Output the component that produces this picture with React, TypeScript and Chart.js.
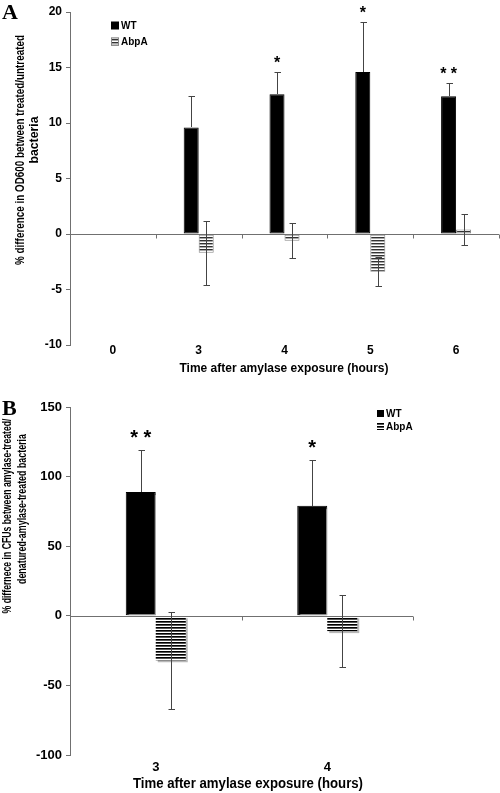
import React, { useEffect, useRef } from 'react';
import { Chart, registerables } from 'chart.js';
Chart.register(...registerables);

// ---------- Data ----------
const seriesNames = ['WT', 'AbpA'];

const categoriesA = ['0', '3', '4', '5', '6'];
const wtA = [null, 9.6, 12.6, 14.6, 12.4];
const wtErrA = [null, 2.8, 2.0, 4.5, 1.2];
const abpA = [null, -1.7, -0.6, -3.4, 0.4];
const abpErrA = [null, 2.9, 1.6, 1.3, 1.4];
const starsA = ['', '', '*', '*', '* *'];
const yMinA = -10, yMaxA = 20, yStepA = 5;

const categoriesB = ['3', '4'];
const wtB = [89, 79];
const wtErrB = [30, 33];
const abpB = [-32, -11];
const abpErrB = [35, 26];
const starsB = ['* *', '*'];
const yMinB = -100, yMaxB = 150, yStepB = 50;

const xTitle = 'Time after amylase exposure (hours)';
const yTitleA = ['% difference in OD600 between treated/untreated', 'bacteria'];
const yTitleB = ['% differnece in CFUs between amylase-treated/', 'denatured-amylase-treated bacteria'];

const FONT = 'Arial, "Liberation Sans", sans-serif';
const SERIF = '"Liberation Serif", "Times New Roman", serif';
const AXIS = '#707070';

function makePattern(rows: string[]) {
  const c = document.createElement('canvas');
  c.width = 4; c.height = rows.length;
  const g = c.getContext('2d')!;
  rows.forEach((col, i) => { g.fillStyle = col; g.fillRect(0, i, 4, 1); });
  const ctx = document.createElement('canvas').getContext('2d')!;
  return ctx.createPattern(c, 'repeat')!;
}

// draws text centred at (0,0) squeezed/stretched to a target length
function fitText(ctx: CanvasRenderingContext2D, text: string, target: number) {
  const w = ctx.measureText(text).width;
  const s = target ? target / w : 1;
  ctx.save();
  ctx.scale(s, 1);
  ctx.fillText(text, 0, 0);
  ctx.restore();
}

const customPlugin = {
  id: 'custom',
  beforeDatasetsDraw(chart: any, _a: any, opts: any) {
    if (opts.shadow) {
      const ctx = chart.ctx;
      ctx.shadowColor = opts.shadow;
      ctx.shadowOffsetX = 2;
      ctx.shadowOffsetY = 2;
      ctx.shadowBlur = 1;
    }
  },
  afterDatasetsDraw(chart: any, _a: any, opts: any) {
    const ctx = chart.ctx;
    ctx.shadowColor = 'rgba(0,0,0,0)';
    ctx.shadowOffsetX = 0; ctx.shadowOffsetY = 0; ctx.shadowBlur = 0;
    ctx.save();
    const xs = chart.scales.x, ys = chart.scales.y, area = chart.chartArea;
    // zero line with category ticks
    const y0 = Math.round(ys.getPixelForValue(0)) + 0.5;
    ctx.strokeStyle = AXIS; ctx.lineWidth = 1;
    ctx.beginPath();
    ctx.moveTo(area.left, y0); ctx.lineTo(area.right, y0);
    const n = chart.data.labels.length;
    for (let i = 0; i < n; i++) {
      const bx = i < n - 1 ? (xs.getPixelForValue(i) + xs.getPixelForValue(i + 1)) / 2 : area.right - 0.5;
      const px = Math.round(bx) + 0.5;
      ctx.moveTo(px, y0); ctx.lineTo(px, y0 + 4);
    }
    ctx.stroke();
    // error bars
    ctx.strokeStyle = '#444';
    chart.data.datasets.forEach((ds: any, di: number) => {
      const meta = chart.getDatasetMeta(di);
      const errs = opts.errors[di];
      const outsideOnly = di === 0;
      meta.data.forEach((el: any, i: number) => {
        const v = ds.data[i]; const e = errs[i];
        if (v == null || e == null) return;
        const px = Math.round(el.x) + 0.5;
        const t = Math.round(ys.getPixelForValue(v + e)) + 0.5;
        const b = Math.round(ys.getPixelForValue(v - e)) + 0.5;
        const barTop = Math.round(ys.getPixelForValue(v));
        ctx.beginPath();
        if (outsideOnly) {
          ctx.moveTo(px, t); ctx.lineTo(px, barTop);
          ctx.moveTo(px - 3, t); ctx.lineTo(px + 3.5, t);
        } else {
          ctx.moveTo(px, t); ctx.lineTo(px, b);
          ctx.moveTo(px - 3, t); ctx.lineTo(px + 3.5, t);
          ctx.moveTo(px - 3, b); ctx.lineTo(px + 3.5, b);
        }
        ctx.stroke();
      });
    });
    // stars
    ctx.fillStyle = '#000';
    ctx.textAlign = 'center';
    ctx.textBaseline = 'alphabetic';
    ctx.font = `bold ${opts.starSize}px ${FONT}`;
    const wtMeta = chart.getDatasetMeta(0);
    opts.stars.forEach((s: string, i: number) => {
      if (!s) return;
      const v = chart.data.datasets[0].data[i];
      const e = opts.errors[0][i];
      const top = ys.getPixelForValue(v + e);
      ctx.fillText(s, wtMeta.data[i].x, top - opts.starGap);
    });
    ctx.restore();
  },
  afterDraw(chart: any, _a: any, opts: any) {
    const ctx = chart.ctx;
    ctx.save();
    ctx.fillStyle = '#000';
    // panel letter
    ctx.font = `bold 22px ${SERIF}`;
    ctx.textAlign = 'left'; ctx.textBaseline = 'alphabetic';
    ctx.fillText(opts.letter, 2, opts.letterY);
    // legend
    const lg = opts.legend;
    ctx.font = `bold ${lg.size}px ${FONT}`;
    ctx.textBaseline = 'middle';
    chart.data.datasets.forEach((ds: any, i: number) => {
      const y = lg.y + i * lg.gap;
      ctx.fillStyle = ds.backgroundColor;
      ctx.fillRect(lg.x, y - lg.box / 2, lg.box, lg.box);
      if (i === 1 && lg.border) {
        ctx.strokeStyle = ds.borderColor; ctx.lineWidth = 1;
        ctx.strokeRect(lg.x + 0.5, y - lg.box / 2 + 0.5, lg.box - 1, lg.box - 1);
      }
      ctx.fillStyle = '#000';
      ctx.fillText(ds.label, lg.x + lg.box + 2, y + 0.5);
    });
    // x title
    ctx.textAlign = 'center'; ctx.textBaseline = 'middle';
    ctx.font = `bold ${opts.xTitleSize}px ${FONT}`;
    ctx.save();
    ctx.translate(opts.xTitleX, opts.xTitleY);
    fitText(ctx, xTitle, opts.xTitleLen);
    ctx.restore();
    // y title
    ctx.font = `bold ${opts.yTitleSize}px ${FONT}`;
    opts.yTitle.forEach((line: string, i: number) => {
      const [cx, cy] = opts.yTitlePos[i];
      ctx.save();
      ctx.translate(cx, cy);
      ctx.rotate(-Math.PI / 2);
      fitText(ctx, line, opts.yTitleLen[i]);
      ctx.restore();
    });
    ctx.restore();
  },
};

function buildConfig(p: any) {
  return {
    type: 'bar',
    data: {
      labels: p.labels,
      datasets: [
        { label: seriesNames[0], data: p.wt, backgroundColor: '#000', borderColor: '#000', borderWidth: 1, borderSkipped: false },
        { label: seriesNames[1], data: p.abp, backgroundColor: p.pattern, borderColor: p.abpBorder, borderWidth: p.abpBorderWidth, borderSkipped: false },
      ],
    },
    options: {
      responsive: false,
      animation: false,
      events: [],
      layout: { padding: { left: 0, right: p.padRight, top: p.padTop, bottom: 0 } },
      datasets: { bar: { categoryPercentage: 0.35, barPercentage: 1.0 } },
      scales: {
        x: {
          grid: { display: false, drawTicks: false },
          border: { display: false },
          ticks: { color: '#000', font: { family: FONT, size: p.tickSize, weight: 'bold' }, padding: p.xTickPad, maxRotation: 0 },
          afterFit: (s: any) => { s.height = p.height - p.bottom; },
        },
        y: {
          min: p.yMin, max: p.yMax,
          grid: { drawOnChartArea: false, drawTicks: true, tickLength: 4, color: AXIS },
          border: { display: true, color: AXIS },
          ticks: { stepSize: p.yStep, color: '#000', font: { family: FONT, size: p.tickSize, weight: 'bold' }, padding: 4 },
          afterFit: (s: any) => { s.width = 70; },
        },
      },
      plugins: {
        legend: { display: false },
        tooltip: { enabled: false },
        custom: p.custom,
      },
    },
    plugins: [customPlugin],
  } as any;
}

function Panel({ makeCfg, width, height }: { makeCfg: () => any; width: number; height: number }) {
  const ref = useRef<HTMLCanvasElement | null>(null);
  useEffect(() => {
    if (!ref.current) return;
    const chart = new Chart(ref.current, makeCfg());
    return () => chart.destroy();
  }, []);
  return <canvas ref={ref} width={width} height={height} style={{ display: 'block', width, height }} />;
}

export default function App() {
  const cfgA = () => buildConfig({
    labels: categoriesA, wt: wtA, abp: abpA,
    pattern: makePattern(['#333333', '#a8a8a8', '#ffffff']),
    abpBorder: '#888', abpBorderWidth: 1,
    padRight: 1, padTop: 12, height: 390, bottom: 345, xTickPad: -2,
    yMin: yMinA, yMax: yMaxA, yStep: yStepA, tickSize: 12,
    custom: {
      errors: [wtErrA, abpErrA], stars: starsA, starSize: 16, starGap: 4,
      letter: 'A', letterY: 19,
      legend: { x: 111, y: 25.5, gap: 16, box: 8, size: 10, border: true },
      xTitleSize: 13.5, xTitleLen: 209, xTitleX: 284, xTitleY: 368,
      yTitle: yTitleA, yTitleSize: 12, yTitleLen: [230, 47], yTitlePos: [[21, 150], [35, 140]],
    },
  });
  const cfgB = () => buildConfig({
    labels: categoriesB, wt: wtB, abp: abpB,
    pattern: makePattern(['#000000', '#555555', '#ffffff']),
    abpBorder: 'rgba(0,0,0,0)', abpBorderWidth: 0,
    padRight: 87, padTop: 17, height: 403, bottom: 365, xTickPad: 5,
    yMin: yMinB, yMax: yMaxB, yStep: yStepB, tickSize: 13,
    custom: {
      errors: [wtErrB, abpErrB], stars: starsB, starSize: 20, starGap: 6, shadow: '#b8b8b8',
      letter: 'B', letterY: 25,
      legend: { x: 377, y: 23.5, gap: 13, box: 7, size: 10, border: false },
      xTitleSize: 14.5, xTitleLen: 230, xTitleX: 248, xTitleY: 394,
      yTitle: yTitleB, yTitleSize: 12, yTitleLen: [195, 150], yTitlePos: [[8, 126], [23, 119]],
    },
  });
  return (
    <div style={{ position: 'absolute', left: 0, top: 0, width: 500, height: 793, background: '#fff' }}>
      <Panel makeCfg={cfgA} width={500} height={390} />
      <Panel makeCfg={cfgB} width={500} height={403} />
    </div>
  );
}
